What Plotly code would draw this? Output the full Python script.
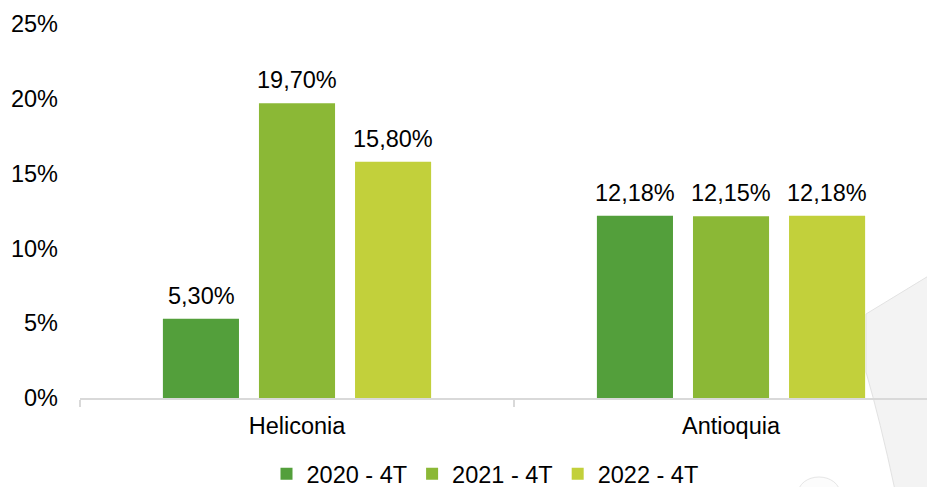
import plotly.graph_objects as go

categories = ["Heliconia", "Antioquia"]
series_names = ["2020 - 4T", "2021 - 4T", "2022 - 4T"]
values_2020 = [5.30, 12.18]
values_2021 = [19.70, 12.15]
values_2022 = [15.80, 12.18]
y_ticks = [0, 5, 10, 15, 20, 25]
y_tick_labels = ["0%", "5%", "10%", "15%", "20%", "25%"]

colors = ["#539F3B", "#8BB836", "#C2D03B"]
FONT = "Liberation Sans, Arial, sans-serif"
FS = 23.5

series_values = [values_2020, values_2021, values_2022]

fig = go.Figure()
for name, vals, col in zip(series_names, series_values, colors):
    fig.add_trace(go.Bar(
        x=categories, y=vals, name=name,
        marker=dict(color=col, line=dict(width=0)),
        cliponaxis=False,
    ))

OFF = 8  # page body offset
W, H = 935 - OFF, 487 - OFF
# plot area in window coordinates: x 80..935, y 24..398
L, R, T, B = 80 - OFF, 0, 24 - OFF, 487 - 398
pw, ph = W - L - R, H - T - B

def px(x):
    return (x - 80) / pw

def py(y):
    return (398 - y) / ph

# data labels above each bar
annotations = []
slot = 96  # pixel spacing between bars of a group
for i, vals in enumerate(series_values):
    for cat, v in zip(categories, vals):
        annotations.append(dict(
            x=cat, y=v, xref="x", yref="y",
            text=f"{v:.2f}%".replace(".", ","),
            showarrow=False, xanchor="center", yanchor="bottom",
            xshift=(i - 1) * slot, yshift=8,
            font=dict(family=FONT, size=FS, color="#000000"),
        ))

# decorative background shape (bottom-right), window pixel coordinates
path = (f"M {px(866)},{py(314)} L {px(935)},{py(272)} L {px(935)},{py(490)} "
        f"L {px(895)},{py(490)} Q {px(880)},{py(420)} {px(866)},{py(372)} Z")
shapes = [
    dict(type="path", xref="paper", yref="paper", path=path,
         fillcolor="#F3F3F3", line=dict(color="#E2E2E2", width=1), layer="below"),
    dict(type="circle", xref="paper", yref="paper",
         x0=px(798), x1=px(840), y0=py(510), y1=py(477),
         fillcolor="#FCFCFC", line=dict(color="#E6E6E6", width=1), layer="below"),
]

fig.update_layout(
    width=W, height=H,
    margin=dict(l=L, r=R, t=T, b=B, pad=0, autoexpand=False),
    paper_bgcolor="white", plot_bgcolor="rgba(0,0,0,0)",
    barmode="group", bargap=0.336, bargroupgap=0.208,
    font=dict(family=FONT, size=FS, color="#000000"),
    showlegend=True,
    legend=dict(orientation="h", x=(485 - OFF) / W, xref="container", xanchor="center",
                y=1 - (474 - OFF) / H, yref="container", yanchor="middle",
                font=dict(family=FONT, size=FS, color="#000000"),
                itemwidth=30, tracegroupgap=0, traceorder="normal",
                bgcolor="rgba(0,0,0,0)"),
    shapes=shapes,
    annotations=annotations,
    xaxis=dict(type="category", range=[-0.5, 1.47], showgrid=False,
               showline=True, linecolor="#D9D9D9", linewidth=2,
               ticks="outside", tickson="boundaries", ticklen=7,
               tickcolor="#D9D9D9", tickwidth=2, ticklabelstandoff=6,
               tickfont=dict(family=FONT, size=FS, color="#000000"),
               zeroline=False),
    yaxis=dict(range=[0, 25], tickvals=y_ticks, ticktext=y_tick_labels,
               showgrid=False, zeroline=False, showline=False, ticks="",
               ticklabelstandoff=21,
               tickfont=dict(family=FONT, size=FS, color="#000000")),
)

fig.write_html("out.html")
